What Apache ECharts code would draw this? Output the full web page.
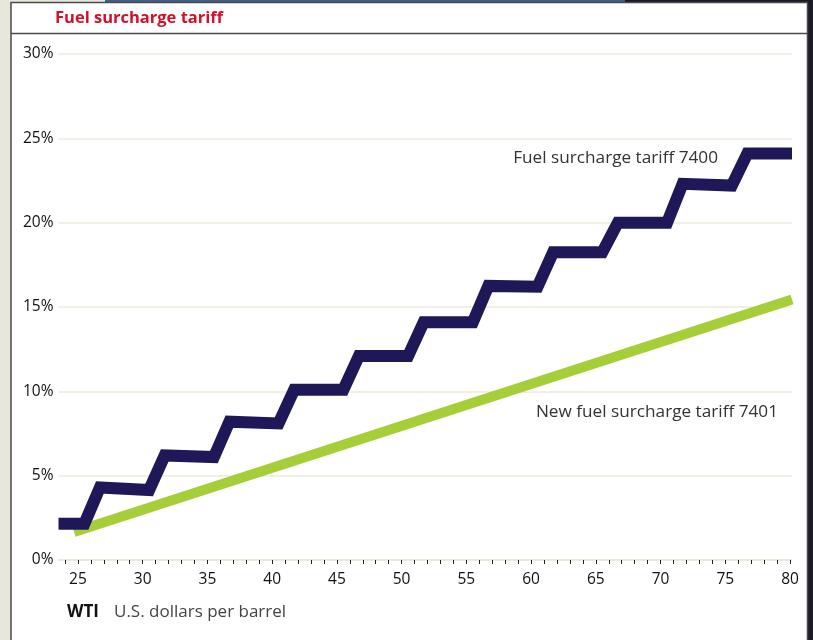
<!DOCTYPE html>
<html>
<head>
<meta charset="utf-8">
<script src="https://cdn.jsdelivr.net/npm/echarts@6/dist/echarts.min.js"></script>
<style>
  html, body { margin: 0; padding: 0; background: #e7e7db; }
  #chart { width: 813px; height: 640px; }
</style>
</head>
<body>
<div id="chart"></div>
<script>
// WTI price (U.S. dollars per barrel) vs. fuel surcharge (%)
const tariff7400X = [23.5, 25.5, 26.7, 30.5, 31.7, 35.5, 36.7, 40.5, 41.7, 45.5, 46.7, 50.5,
                     51.7, 55.5, 56.7, 60.5, 61.7, 65.5, 66.7, 70.5, 71.7, 75.5, 76.7, 80.15];
const tariff7400Y = [2.15, 2.15, 4.3, 4.15, 6.2, 6.1, 8.2, 8.1, 10.1, 10.1, 12.1, 12.1,
                     14.1, 14.1, 16.25, 16.2, 18.25, 18.25, 20.0, 20.0, 22.3, 22.2, 24.1, 24.1];
const tariff7401X = [24.7, 80.15];
const tariff7401Y = [1.66, 15.45];

const xTickValues = [];
for (let v = 24; v <= 80; v++) xTickValues.push(v);
const xLabelValues = [25, 30, 35, 40, 45, 50, 55, 60, 65, 70, 75, 80];
const yTickLabels = ['0%', '5%', '10%', '15%', '20%', '25%', '30%'];

const titleText = 'Fuel surcharge tariff';
const series7400Name = 'Fuel surcharge tariff 7400';
const series7401Name = 'New fuel surcharge tariff 7401';
const axisNameBold = 'WTI';
const axisNameText = 'U.S. dollars per barrel';

const pair = (xs, ys) => xs.map((x, i) => [x, ys[i]]);

const chart = echarts.init(document.getElementById('chart'), null, { renderer: 'canvas' });
const FONT = '"Open Sans", "Noto Sans", sans-serif';

chart.setOption({
  backgroundColor: 'transparent',
  animation: false,
  grid: { left: 58.5, right: 21, top: 54, bottom: 80, containLabel: false },
  xAxis: {
    type: 'value',
    min: 23.5,
    max: 80.15,
    axisLine: { show: true, lineStyle: { color: '#e6e6d2', width: 1.5 } },
    axisTick: {
      show: true, customValues: xTickValues, length: 4, inside: false,
      lineStyle: { color: '#222', width: 1 }
    },
    axisLabel: {
      customValues: xLabelValues, margin: 12,
      color: '#111', fontSize: 15.5, fontFamily: FONT
    },
    splitLine: { show: false }
  },
  yAxis: {
    type: 'value',
    min: 0, max: 30, interval: 5,
    axisLine: { show: false },
    axisTick: { show: false },
    axisLabel: {
      margin: 5, color: '#111', fontSize: 15.5, fontFamily: FONT,
      formatter: (v) => yTickLabels[Math.round(v / 5)]
    },
    splitLine: { lineStyle: { color: '#ecebdf', width: 1.5 } }
  },
  series: [
    {
      name: series7401Name,
      type: 'line',
      data: pair(tariff7401X, tariff7401Y),
      showSymbol: false,
      lineStyle: { color: '#a6ce39', width: 10, cap: 'butt' },
      z: 2
    },
    {
      name: series7400Name,
      type: 'line',
      data: pair(tariff7400X, tariff7400Y),
      showSymbol: false,
      lineStyle: { color: '#1e1858', width: 12, cap: 'butt', join: 'miter' },
      z: 3
    }
  ],
  graphic: [
    // surrounding strips
    { type: 'rect', z: -10, silent: true, shape: { x: 0, y: 0, width: 813, height: 640 }, style: { fill: '#e7e7db' } },
    { type: 'rect', z: -9, silent: true, shape: { x: 105, y: 0, width: 520, height: 3 }, style: { fill: '#3f5f8a' } },
    { type: 'rect', z: -9, silent: true, shape: { x: 625, y: 0, width: 188, height: 3 }, style: { fill: '#1a1b26' } },
    { type: 'rect', z: -9, silent: true, shape: { x: 808, y: 0, width: 5, height: 640 }, style: { fill: '#1a1b26' } },
    // white panel
    {
      type: 'rect', z: -8, silent: true,
      shape: { x: 11, y: 2.5, width: 796.5, height: 645 },
      style: { fill: '#ffffff', stroke: '#4a4a4a', lineWidth: 1.5 }
    },
    // rule under the heading
    {
      type: 'line', z: -7, silent: true,
      shape: { x1: 11, y1: 33.5, x2: 808, y2: 33.5 },
      style: { stroke: '#4a4a4a', lineWidth: 1.5 }
    },
    {
      type: 'text', left: 55, top: 10,
      style: { text: titleText, fill: '#d2102a', font: 'bold 16.5px ' + FONT }
    },
    {
      type: 'text', right: 813 - 718, top: 150,
      style: { text: series7400Name, fill: '#333', font: '17.2px ' + FONT }
    },
    {
      type: 'text', right: 813 - 778, top: 404,
      style: { text: series7401Name, fill: '#333', font: '17.2px ' + FONT }
    },
    {
      type: 'text', left: 67, top: 604,
      style: { text: axisNameBold, fill: '#111', font: 'bold 17px ' + FONT }
    },
    {
      type: 'text', left: 114, top: 604,
      style: { text: axisNameText, fill: '#444', font: '17px ' + FONT }
    }
  ]
});
</script>
</body>
</html>
